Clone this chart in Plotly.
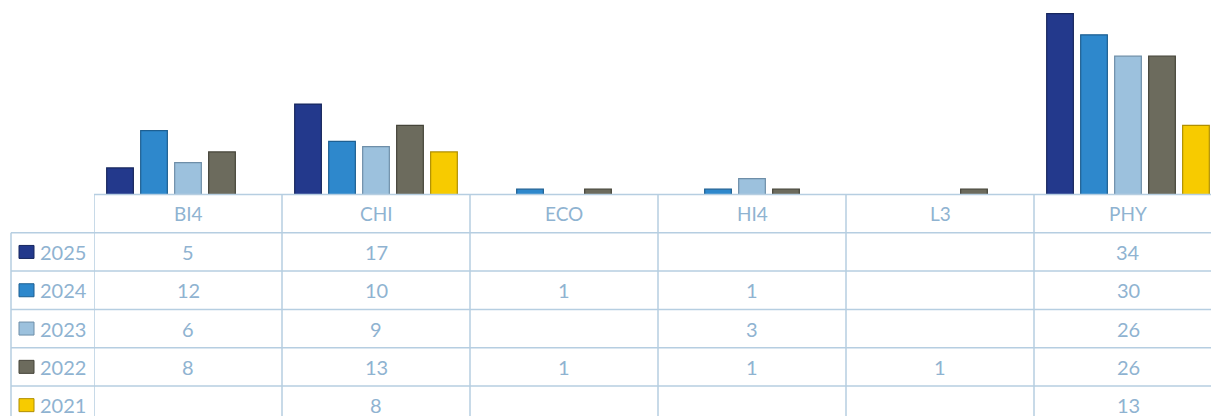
import plotly.graph_objects as go

categories = ["BI4", "CHI", "ECO", "HI4", "L3", "PHY"]
years = ["2025", "2024", "2023", "2022", "2021"]
values_2025 = [5, 17, None, None, None, 34]
values_2024 = [12, 10, 1, 1, None, 30]
values_2023 = [6, 9, None, 3, None, 26]
values_2022 = [8, 13, 1, 1, 1, 26]
values_2021 = [None, 8, None, None, None, 13]
series = [values_2025, values_2024, values_2023, values_2022, values_2021]

fills = ["#23398c", "#2e88cc", "#9cc1dd", "#6c6b5d", "#f7cb00"]
borders = ["#17275e", "#1d5f92", "#6e8ea8", "#454439", "#b08f00"]

W, H = 1211, 416
TXT = "#8fb3d1"
GRID = "#b6cee1"
FONT = "Lato"

plot_bottom_px = 194.5
col0_px = 94
legend_left_px = 11
row_h = 38.3

def py(px):
    return 1 - px / H

def pxx(px):
    return px / W

fig = go.Figure()
for yr, vals, fc, bc in zip(years, series, fills, borders):
    fig.add_trace(go.Bar(
        x=categories, y=vals, name=yr,
        marker=dict(color=fc, line=dict(color=bc, width=1.2)),
        hoverinfo="skip",
    ))

shapes = []
annotations = []

# horizontal lines
shapes.append(dict(type="line", xref="paper", yref="paper",
                   x0=pxx(col0_px), x1=1, y0=py(plot_bottom_px), y1=py(plot_bottom_px),
                   line=dict(color=GRID, width=1.5)))
for i in range(len(years)):
    yline = plot_bottom_px + row_h * (i + 1)
    shapes.append(dict(type="line", xref="paper", yref="paper",
                       x0=pxx(legend_left_px), x1=1, y0=py(yline), y1=py(yline),
                       line=dict(color=GRID, width=1.5)))

# vertical lines
for i in range(len(categories)):
    shapes.append(dict(type="line", xref="x", yref="paper",
                       x0=i - 0.5, x1=i - 0.5, y0=0, y1=py(plot_bottom_px),
                       line=dict(color=GRID, width=1.5)))
shapes.append(dict(type="line", xref="paper", yref="paper",
                   x0=pxx(legend_left_px), x1=pxx(legend_left_px),
                   y0=0, y1=py(plot_bottom_px + row_h),
                   line=dict(color=GRID, width=1.5)))

# header labels
for c in categories:
    annotations.append(dict(x=c, xref="x", y=py(plot_bottom_px + row_h / 2), yref="paper",
                            text=c, showarrow=False, xanchor="center", yanchor="middle",
                            font=dict(family=FONT, size=19, color=TXT)))

# rows
for r, (yr, vals, fc, bc) in enumerate(zip(years, series, fills, borders)):
    yc = plot_bottom_px + row_h * (r + 1) + row_h / 2
    shapes.append(dict(type="rect", xref="paper", yref="paper",
                       x0=pxx(19), x1=pxx(34), y0=py(yc - 6.5), y1=py(yc + 6.5),
                       fillcolor=fc, line=dict(color=bc, width=1)))
    annotations.append(dict(x=pxx(38), xref="paper", y=py(yc), yref="paper",
                            text=yr, showarrow=False, xanchor="left", yanchor="middle",
                            font=dict(family=FONT, size=20, color=TXT)))
    for c, v in zip(categories, vals):
        if v is None:
            continue
        annotations.append(dict(x=c, xref="x", y=py(yc), yref="paper",
                                text=str(v), showarrow=False, xanchor="center", yanchor="middle",
                                font=dict(family=FONT, size=20, color=TXT)))

n_visible = (W - col0_px) / 188.0
fig.update_layout(
    width=W, height=H,
    margin=dict(l=0, r=0, t=0, b=0),
    paper_bgcolor="white", plot_bgcolor="white",
    barmode="group", bargap=0.096, bargroupgap=0.215,
    showlegend=False,
    xaxis=dict(domain=[pxx(col0_px), 1], range=[-0.5, -0.5 + n_visible],
               showticklabels=False, showgrid=False, zeroline=False, showline=False,
               ticks="", fixedrange=True),
    yaxis=dict(domain=[py(plot_bottom_px), 1], range=[0, 36.55],
               showticklabels=False, showgrid=False, zeroline=False, showline=False,
               ticks="", fixedrange=True),
    shapes=shapes, annotations=annotations,
)

fig.write_html("out.html", config={"displayModeBar": False},
               post_script="document.body.style.margin='0';document.body.style.overflow='hidden';")
